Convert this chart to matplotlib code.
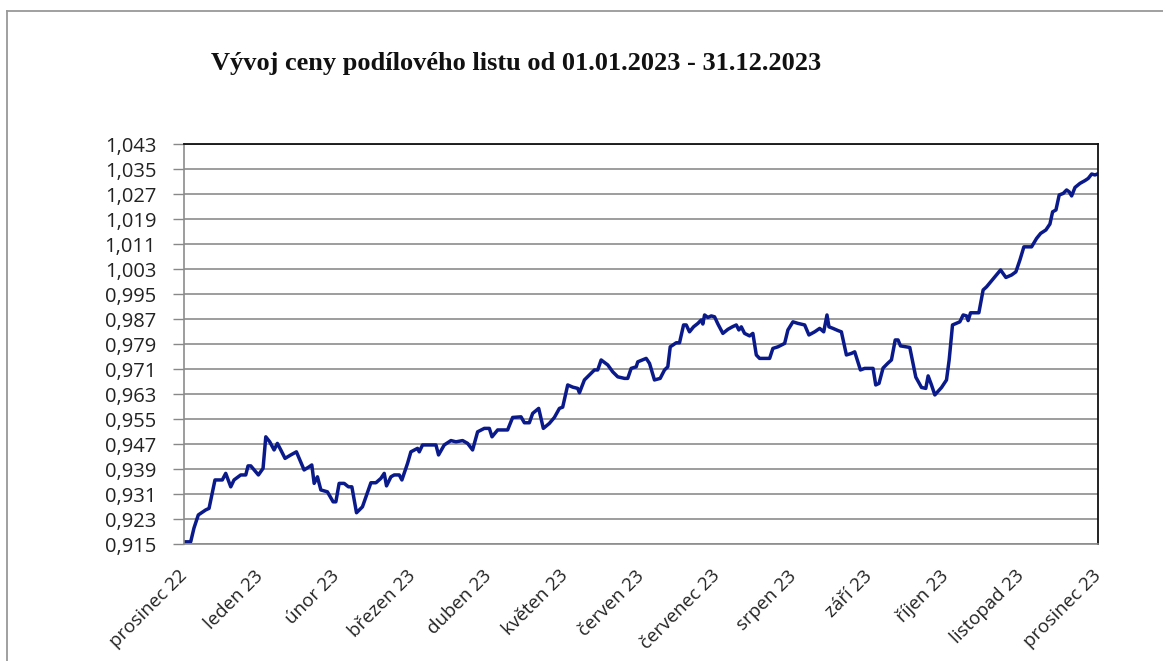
import matplotlib
matplotlib.use("Agg")
from matplotlib import pyplot as plt
from matplotlib.lines import Line2D
from matplotlib.ticker import FuncFormatter, FixedLocator
import numpy as np

# month labels on the x axis (one per month boundary)
months = ["prosinec 22", "leden 23", "únor 23", "březen 23", "duben 23",
          "květen 23", "červen 23", "červenec 23", "srpen 23", "září 23",
          "říjen 23", "listopad 23", "prosinec 23"]

# position in months since end of Dec 2022
t = [0.022, 0.088, 0.131, 0.188, 0.285, 0.329, 0.407, 0.503, 0.548, 0.614,
     0.657, 0.745, 0.811, 0.841, 0.877, 0.977, 1.038, 1.074, 1.126, 1.183,
     1.226, 1.271, 1.327, 1.402, 1.476, 1.577, 1.643, 1.678, 1.709, 1.752,
     1.797, 1.883, 1.958, 1.994, 2.037, 2.103, 2.159, 2.204, 2.265, 2.343,
     2.454, 2.520, 2.585, 2.629, 2.659, 2.717, 2.760, 2.826, 2.861, 2.935,
     2.979, 3.066, 3.089, 3.132, 3.308, 3.342, 3.417, 3.505, 3.571, 3.658,
     3.724, 3.789, 3.855, 3.943, 4.009, 4.044, 4.118, 4.249, 4.315, 4.425,
     4.469, 4.534, 4.578, 4.657, 4.718, 4.797, 4.863, 4.929, 4.972, 5.038,
     5.104, 5.169, 5.192, 5.257, 5.323, 5.389, 5.432, 5.477, 5.564, 5.629,
     5.695, 5.783, 5.826, 5.871, 5.937, 5.958, 6.068, 6.112, 6.177, 6.252,
     6.309, 6.352, 6.384, 6.463, 6.506, 6.559, 6.594, 6.637, 6.690, 6.747,
     6.791, 6.812, 6.835, 6.878, 6.923, 6.966, 7.010, 7.075, 7.141, 7.199,
     7.251, 7.285, 7.317, 7.360, 7.426, 7.469, 7.514, 7.557, 7.689, 7.732,
     7.798, 7.886, 7.929, 7.995, 8.061, 8.149, 8.205, 8.280, 8.346, 8.399,
     8.442, 8.468, 8.521, 8.587, 8.631, 8.697, 8.763, 8.806, 8.881, 8.937,
     9.047, 9.082, 9.125, 9.178, 9.243, 9.288, 9.338, 9.375, 9.407, 9.529,
     9.608, 9.683, 9.739, 9.770, 9.814, 9.858, 9.946, 10.011, 10.046, 10.090,
     10.186, 10.230, 10.274, 10.295, 10.327, 10.436, 10.492, 10.537, 10.646, 10.721,
     10.791, 10.866, 10.922, 10.975, 11.027, 11.128, 11.194, 11.247, 11.316, 11.369,
     11.404, 11.448, 11.491, 11.544, 11.588, 11.622, 11.654, 11.698, 11.763, 11.829,
     11.872, 11.917, 11.961, 11.991]

# unit price
price = [0.9157, 0.9157, 0.9201, 0.9243, 0.9259, 0.9264, 0.9355, 0.9355, 0.9376, 0.9333,
         0.9355, 0.9371, 0.9371, 0.9400, 0.9400, 0.9371, 0.9392, 0.9493, 0.9477, 0.9451,
         0.9472, 0.9451, 0.9424, 0.9435, 0.9445, 0.9387, 0.9397, 0.9403, 0.9344, 0.9365,
         0.9323, 0.9317, 0.9285, 0.9285, 0.9344, 0.9344, 0.9333, 0.9333, 0.9250, 0.9269,
         0.9346, 0.9346, 0.9360, 0.9376, 0.9336, 0.9365, 0.9371, 0.9371, 0.9355, 0.9408,
         0.9445, 0.9456, 0.9445, 0.9467, 0.9467, 0.9435, 0.9467, 0.9481, 0.9477, 0.9481,
         0.9472, 0.9451, 0.9509, 0.9520, 0.9520, 0.9493, 0.9515, 0.9515, 0.9555, 0.9557,
         0.9538, 0.9538, 0.9568, 0.9584, 0.9520, 0.9536, 0.9555, 0.9584, 0.9588, 0.9659,
         0.9652, 0.9648, 0.9634, 0.9675, 0.9691, 0.9707, 0.9707, 0.9739, 0.9723, 0.9701,
         0.9685, 0.9680, 0.9680, 0.9712, 0.9717, 0.9733, 0.9744, 0.9728, 0.9675, 0.9680,
         0.9707, 0.9717, 0.9781, 0.9794, 0.9794, 0.9851, 0.9851, 0.9829, 0.9845, 0.9856,
         0.9867, 0.9854, 0.9883, 0.9875, 0.9880, 0.9877, 0.9854, 0.9824, 0.9837, 0.9845,
         0.9851, 0.9835, 0.9845, 0.9824, 0.9816, 0.9824, 0.9755, 0.9744, 0.9744, 0.9776,
         0.9781, 0.9792, 0.9835, 0.9861, 0.9856, 0.9851, 0.9819, 0.9829, 0.9840, 0.9829,
         0.9883, 0.9845, 0.9840, 0.9833, 0.9829, 0.9755, 0.9760, 0.9765, 0.9707, 0.9712,
         0.9712, 0.9659, 0.9664, 0.9713, 0.9729, 0.9739, 0.9803, 0.9803, 0.9784, 0.9779,
         0.9684, 0.9651, 0.9648, 0.9688, 0.9659, 0.9627, 0.9651, 0.9675, 0.9739, 0.9851,
         0.9861, 0.9883, 0.9880, 0.9865, 0.9890, 0.9890, 0.9963, 0.9973, 1.0005, 1.0027,
         1.0003, 1.0011, 1.0021, 1.0059, 1.0101, 1.0101, 1.0128, 1.0144, 1.0155, 1.0174,
         1.0213, 1.0219, 1.0267, 1.0272, 1.0283, 1.0277, 1.0264, 1.0291, 1.0304, 1.0313,
         1.0320, 1.0334, 1.0331, 1.0334]

y_ticks = np.arange(0.915, 1.0431, 0.008)

plt.rcParams['font.family'] = ['Open Sans', 'DejaVu Sans']

fig = plt.figure(figsize=(11.63, 6.61), dpi=100)
ax = fig.add_axes([0.1582, 0.1770, 0.7859, 0.6051])

ax.plot(t, price, color='#0a1a8a', linewidth=2.5, solid_joinstyle='round')

ax.set_xlim(0, len(months) - 1)
ax.set_ylim(0.915, 1.043)
ax.yaxis.set_major_locator(FixedLocator(y_ticks))
ax.yaxis.set_major_formatter(FuncFormatter(lambda v, p: f"{v:.3f}".replace('.', ',')))
ax.set_xticks(range(len(months)))
ax.set_xticklabels(months, rotation=45, ha='right', va='center',
                   rotation_mode='anchor', fontsize=13.5, color='#222222')
ax.tick_params(axis='x', length=0, pad=21)
ax.tick_params(axis='y', length=8, width=1, color='#888888', pad=12,
               labelsize=14.5, labelcolor='#222222')

ax.grid(axis='y', color='#8c8c8c', linewidth=1.2)
ax.set_axisbelow(True)
for side in ['left', 'bottom']:
    ax.spines[side].set_color('#8c8c8c')
    ax.spines[side].set_linewidth(1.2)
for side in ['top', 'right']:
    ax.spines[side].set_color('#111111')
    ax.spines[side].set_linewidth(1.3)

fig.text(0.4441, 0.894, "Vývoj ceny podílového listu od 01.01.2023 - 31.12.2023",
         ha='center', va='baseline', fontsize=19, fontweight='bold',
         family=['Liberation Serif', 'DejaVu Serif'], color='#111111')

# outer chart frame (left and top edges visible)
fig.add_artist(Line2D([7 / 1163, 7 / 1163], [0, 1 - 11 / 661],
                      transform=fig.transFigure, color='#999999', linewidth=1.3))
fig.add_artist(Line2D([7 / 1163, 1], [1 - 11 / 661, 1 - 11 / 661],
                      transform=fig.transFigure, color='#999999', linewidth=1.3))

fig.savefig('out.png', dpi=100)
